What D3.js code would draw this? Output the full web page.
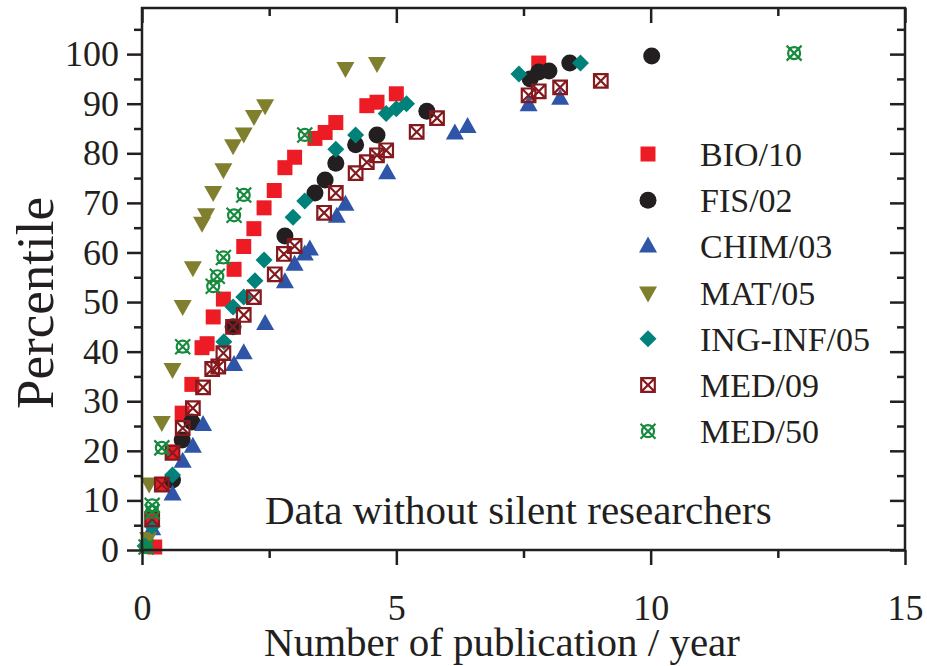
<!DOCTYPE html>
<html>
<head>
<meta charset="utf-8">
<script src="https://cdnjs.cloudflare.com/ajax/libs/d3/7.8.5/d3.min.js"></script>
<style>
body { margin: 0; background: #fff; }
text { font-family: "Liberation Serif", "Times New Roman", serif; fill: #231f20; }
</style>
</head>
<body>
<div id="chart"></div>
<script>
// values: [publications per year, percentile]
var bio10 = [[0.25, 0.6], [0.2, 6.4], [0.39, 13.3], [0.6, 19.8], [0.79, 27.6], [0.98, 33.4], [1.18, 40.8],
  [1.28, 41.6], [1.4, 47], [1.6, 50.6], [1.81, 56.6], [2.0, 61.2], [2.2, 64.8], [2.4, 69], [2.6, 72.5],
  [2.81, 77.1], [3.0, 79.2], [3.4, 83], [3.6, 84.2], [3.81, 86.2], [4.42, 89.6], [4.62, 90.3], [5.0, 92], [7.8, 98.2]];
var fis02 = [[0.6, 14.1], [0.79, 22.2], [0.98, 25.8], [1.79, 45], [2.81, 63.3], [3.4, 72], [3.6, 74.6],
  [3.81, 78], [4.2, 81.7], [4.62, 83.7], [5.6, 88.5], [7.63, 95], [7.8, 96.4], [8.0, 96.6], [8.41, 98.2], [10.02, 99.6]];
var chim03 = [[0.2, 4.2], [0.6, 11.2], [0.8, 17.8], [1.0, 20.8], [1.2, 25.2], [1.81, 37.3], [2.0, 39.7],
  [2.42, 45.6], [2.81, 54], [3.0, 57.5], [3.2, 59.6], [3.3, 60.6], [3.83, 67.2], [4.0, 69.6], [4.82, 76],
  [6.15, 84], [6.4, 85.3], [7.6, 89.7], [8.22, 91]];
var mat05 = [[0.12, 2.4], [0.14, 13.4], [0.39, 25.8], [0.6, 36.5], [0.8, 49.2], [1.0, 57], [1.18, 66],
  [1.26, 67.7], [1.4, 72.2], [1.6, 76.8], [1.79, 81.6], [2.0, 84], [2.2, 87.5], [2.42, 89.7], [4.0, 97.2], [4.62, 98.2]];
var ingInf05 = [[0.06, 0.8], [0.2, 4.8], [0.6, 15.1], [1.61, 42], [1.79, 49], [2.0, 51], [2.22, 54.3],
  [2.4, 58.5], [2.97, 67.1], [3.2, 70.4], [3.81, 80.8], [4.2, 83.7], [4.8, 88], [5.0, 89], [5.2, 90],
  [7.41, 96], [8.62, 98.2]];
var med09 = [[0.2, 6.2], [0.39, 13.2], [0.6, 19.6], [0.8, 24.6], [1.0, 28.6], [1.2, 32.8], [1.38, 36.5],
  [1.5, 37], [1.6, 39.7], [1.79, 45], [2.0, 47.4], [2.2, 51], [2.61, 55.6], [2.79, 59.7], [3.0, 61.3],
  [3.58, 68], [3.81, 72], [4.2, 76], [4.42, 78.2], [4.62, 79.6], [4.8, 80.6], [5.4, 84.3], [5.8, 87.1],
  [7.6, 91.7], [7.8, 92.5], [8.22, 93.3], [9.02, 94.6]];
var med50 = [[0.08, 0.6], [0.2, 7.7], [0.2, 9], [0.39, 20.6], [0.8, 41], [1.4, 53.2], [1.48, 55.2],
  [1.6, 59], [1.81, 67.5], [2.0, 71.6], [3.2, 83.7], [12.82, 100.2]];

var seriesNames = ["BIO/10", "FIS/02", "CHIM/03", "MAT/05", "ING-INF/05", "MED/09", "MED/50"];
var seriesData = [bio10, fis02, chim03, mat05, ingInf05, med09, med50];
var xTicks = [0, 5, 10, 15];
var xMinor = [2.5, 7.5, 12.5];
var yTicks = [0, 10, 20, 30, 40, 50, 60, 70, 80, 90, 100];
var yMinor = [5, 15, 25, 35, 45, 55, 65, 75, 85, 95, 105];
var xTitle = "Number of publication / year";
var yTitle = "Percentile";
var note = "Data without silent researchers";

var styles = [
  { shape: "square", color: "#ed1c24" },
  { shape: "circle", color: "#231f20" },
  { shape: "up", color: "#2e55a8" },
  { shape: "down", color: "#7f7f2e" },
  { shape: "diamond", color: "#00827b" },
  { shape: "boxx", color: "#851a1e" },
  { shape: "circx", color: "#178a3e" }
];

var svgWidth = 927, svgHeight = 666;
var plotLeft = 142, plotRight = 905, plotTop = 8, plotBottom = 550;

var svg = d3.select("#chart").append("svg")
  .attr("width", svgWidth)
  .attr("height", svgHeight);

var x = d3.scaleLinear().domain([0, 15]).range([plotLeft, plotRight]);
var y = d3.scaleLinear().domain([0, 109.3]).range([plotBottom, plotTop]);

// marker path centered on 0,0
function markerPath(shape) {
  var p = d3.path();
  if (shape == "square" || shape == "boxx") {
    var h = shape == "square" ? 7.5 : 6.8;
    p.rect(-h, -h, 2 * h, 2 * h);
    if (shape == "boxx") {
      p.moveTo(-h, -h); p.lineTo(h, h);
      p.moveTo(h, -h); p.lineTo(-h, h);
    }
  } else if (shape == "circle") {
    p.arc(0, 0, 8.5, 0, 2 * Math.PI);
  } else if (shape == "up") {
    p.moveTo(0, -10); p.lineTo(9, 6); p.lineTo(-9, 6); p.closePath();
  } else if (shape == "down") {
    p.moveTo(0, 10); p.lineTo(9, -6); p.lineTo(-9, -6); p.closePath();
  } else if (shape == "diamond") {
    p.moveTo(0, -8.5); p.lineTo(8.5, 0); p.lineTo(0, 8.5); p.lineTo(-8.5, 0); p.closePath();
  } else if (shape == "circx") {
    p.moveTo(6, 0);
    p.arc(0, 0, 6, 0, 2 * Math.PI);
    p.moveTo(-7.5, -7.5); p.lineTo(7.5, 7.5);
    p.moveTo(7.5, -7.5); p.lineTo(-7.5, 7.5);
  }
  return p.toString();
}

function drawMarker(sel, st) {
  var outline = st.shape == "boxx" || st.shape == "circx";
  sel.attr("d", markerPath(st.shape))
    .attr("fill", outline ? "none" : st.color)
    .attr("stroke", outline ? st.color : "none")
    .attr("stroke-width", outline ? 2.2 : 0);
}

// points
var plot = svg.append("g");
seriesData.forEach(function(data, i) {
  plot.append("g")
    .selectAll("path")
    .data(data)
    .enter()
    .append("path")
    .attr("transform", function(d) { return "translate(" + x(d[0]) + "," + y(d[1]) + ")"; })
    .call(drawMarker, styles[i]);
});

// frame and axes
svg.append("rect")
  .attr("x", plotLeft).attr("y", plotTop)
  .attr("width", plotRight - plotLeft).attr("height", plotBottom - plotTop)
  .attr("fill", "none").attr("stroke", "#231f20").attr("stroke-width", 2.5);

function styleAxis(g) {
  g.select(".domain").remove();
  g.selectAll("line").attr("stroke", "#231f20").attr("stroke-width", 2.5);
  g.selectAll("text").style("font-size", "36px").attr("fill", "#231f20");
}

svg.append("g").attr("transform", "translate(" + plotLeft + ",0)")
  .call(d3.axisLeft(y).tickValues(yTicks).tickSize(15).tickPadding(8)).call(styleAxis);
svg.append("g").attr("transform", "translate(" + plotLeft + ",0)")
  .call(d3.axisLeft(y).tickValues(yMinor).tickSize(8).tickFormat("")).call(styleAxis);
svg.append("g").attr("transform", "translate(" + plotRight + ",0)")
  .call(d3.axisLeft(y).tickValues(yTicks).tickSize(15).tickFormat("")).call(styleAxis);
svg.append("g").attr("transform", "translate(" + plotRight + ",0)")
  .call(d3.axisLeft(y).tickValues(yMinor).tickSize(8).tickFormat("")).call(styleAxis);

svg.append("g").attr("transform", "translate(0," + plotBottom + ")")
  .call(d3.axisBottom(x).tickValues(xTicks).tickSize(15).tickPadding(29)).call(styleAxis);
svg.append("g").attr("transform", "translate(0," + plotBottom + ")")
  .call(d3.axisBottom(x).tickValues(xMinor).tickSize(8).tickFormat("")).call(styleAxis);
svg.append("g").attr("transform", "translate(0," + plotTop + ")")
  .call(d3.axisBottom(x).tickValues(xTicks).tickSize(15).tickFormat("")).call(styleAxis);
svg.append("g").attr("transform", "translate(0," + plotTop + ")")
  .call(d3.axisBottom(x).tickValues(xMinor).tickSize(8).tickFormat("")).call(styleAxis);

// titles
svg.append("text")
  .attr("x", 502).attr("y", 656)
  .attr("text-anchor", "middle")
  .style("font-size", "41px")
  .text(xTitle);

svg.append("text")
  .attr("transform", "translate(53,303) rotate(-90)")
  .attr("text-anchor", "middle")
  .style("font-size", "53px")
  .text(yTitle);

svg.append("text")
  .attr("x", 265).attr("y", 524)
  .style("font-size", "41px")
  .text(note);

// legend
var legend = svg.append("g");
seriesNames.forEach(function(name, i) {
  var ly = 154 + i * 46.2;
  legend.append("path")
    .attr("transform", "translate(648," + ly + ")")
    .call(drawMarker, styles[i]);
  legend.append("text")
    .attr("x", 700).attr("y", ly + 12)
    .style("font-size", "34px")
    .text(name);
});
</script>
</body>
</html>
